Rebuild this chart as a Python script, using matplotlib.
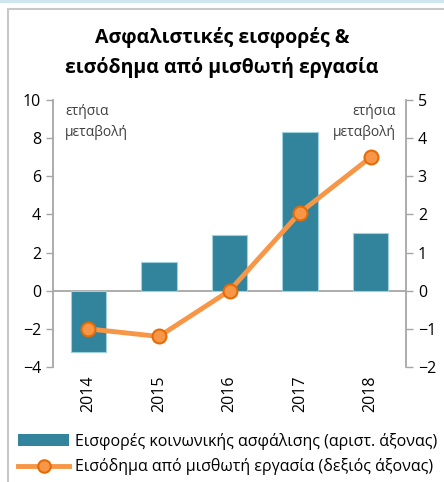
import matplotlib.pyplot as plt
from matplotlib.patches import Rectangle
from matplotlib.lines import Line2D
import numpy as np

years = ["2014", "2015", "2016", "2017", "2018"]
contributions = [-3.2, 1.5, 2.9, 8.3, 3.05]
wage_income = [-1.0, -1.2, 0.0, 2.05, 3.5]

left_ticks = [-4, -2, 0, 2, 4, 6, 8, 10]
right_ticks = [-2, -1, 0, 1, 2, 3, 4, 5]

bar_color = "#31849B"
line_color = "#F79646"
edge_orange = "#E36C09"
axis_gray = "#A6A6A6"

plt.rcParams["font.family"] = ["Open Sans", "DejaVu Sans"]

fig = plt.figure(figsize=(4.44, 4.82), dpi=100)

# outer frame and top strip
fig.patches.append(Rectangle((0, 1 - 3 / 482), 1, 3 / 482, transform=fig.transFigure,
                             facecolor="#cde6ef", edgecolor="none"))
fig.patches.append(Rectangle((8 / 444, -0.05), 1.0, 1 - 9 / 482 + 0.05, transform=fig.transFigure,
                             facecolor="none", edgecolor="#c8c8c8", linewidth=1.5))

ax = fig.add_axes([53 / 444, 1 - 367 / 482, 353 / 444, 267 / 482])
ax2 = ax.twinx()

x = np.arange(len(years))
ax.bar(x, contributions, width=0.5, color=bar_color, edgecolor="#9fd0de", linewidth=0.8, zorder=2)
ax.axhline(0, color=axis_gray, linewidth=1.3, zorder=1)
ax.set_xlim(-0.5, len(years) - 0.5)
ax.set_ylim(-4, 10)
ax.set_yticks(left_ticks)

ax2.plot(x, wage_income, color=line_color, linewidth=3.5, marker="o", markersize=10,
         markerfacecolor=line_color, markeredgecolor=edge_orange, markeredgewidth=1.5, zorder=3)
ax2.set_ylim(-2, 5)
ax2.set_yticks(right_ticks)

for a in (ax, ax2):
    for s in ("top", "bottom"):
        a.spines[s].set_visible(False)
    a.spines["left"].set_color(axis_gray)
    a.spines["right"].set_color(axis_gray)
    a.tick_params(axis="y", colors=axis_gray, labelcolor="black", labelsize=11.5, length=5, width=1)
ax.spines["right"].set_visible(False)
ax2.spines["left"].set_visible(False)
ax.spines["left"].set_linewidth(1.3)
ax2.spines["right"].set_linewidth(1.3)

ax.set_xticks(x)
ax.set_xticklabels(years, rotation=90, fontsize=11.5)
ax.tick_params(axis="x", length=0, pad=6)

ax.text(0.035, 0.985, "ετήσια\nμεταβολή", transform=ax.transAxes, ha="left", va="top",
        fontsize=10, color="#404040", linespacing=1.5)
ax2.text(0.97, 0.985, "ετήσια\nμεταβολή", transform=ax.transAxes, ha="right", va="top",
         fontsize=10, color="#404040", linespacing=1.5)

fig.text(0.5, 1 - 37 / 482, "Ασφαλιστικές εισφορές &", ha="center", va="center",
         fontsize=14, fontweight="bold")
fig.text(0.5, 1 - 67 / 482, "εισόδημα από μισθωτή εργασία", ha="center", va="center",
         fontsize=14, fontweight="bold")

handles = [
    Rectangle((0, 0), 1, 1, facecolor=bar_color, edgecolor="none"),
    Line2D([0], [0], color=line_color, linewidth=3.5, marker="o", markersize=9,
           markerfacecolor=line_color, markeredgecolor=edge_orange, markeredgewidth=1.5),
]
labels = ["Εισφορές κοινωνικής ασφάλισης (αριστ. άξονας)",
          "Εισόδημα από μισθωτή εργασία (δεξιός άξονας)"]
fig.legend(handles, labels, loc="center left", bbox_to_anchor=(18 / 444, 1 - 454 / 482),
           frameon=False, fontsize=11.5, handlelength=3.2, handletextpad=0.35,
           labelspacing=0.55, borderaxespad=0, borderpad=0)

fig.savefig("out.png", dpi=100)
